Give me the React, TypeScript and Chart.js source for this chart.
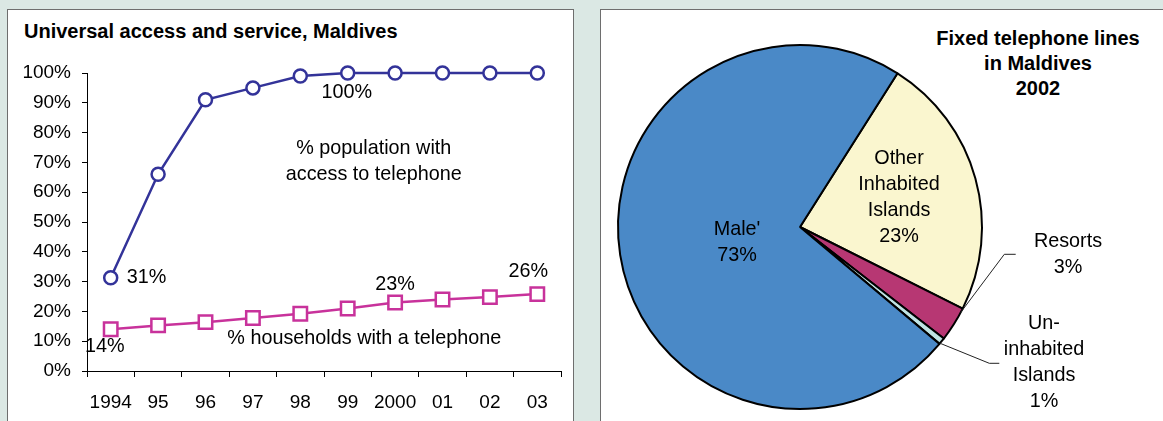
import React, { useEffect, useRef } from 'react';
import { Chart, registerables } from 'chart.js';

Chart.register(...registerables);

const FONT = '"Liberation Sans", Arial, Helvetica, sans-serif';

// ---- Line chart data ----
const years = ['1994', '95', '96', '97', '98', '99', '2000', '01', '02', '03'];
const populationAccess = [31.3, 66, 91, 95, 99, 100, 100, 100, 100, 100];
const householdsPhone = [14, 15.3, 16.4, 17.8, 19.2, 21, 23, 24, 24.8, 25.8];
const yTickStep = 10;

// ---- Pie chart data ----
const pieLabels = ['Other Inhabited Islands', 'Resorts', 'Un-inhabited Islands', "Male'"];
const pieValues = [23.4, 3.1, 0.6, 72.9];
const pieNameLines = [['Other', 'Inhabited', 'Islands'], ['Resorts'], ['Un-', 'inhabited', 'Islands'], ["Male'"]];
const pieColors = ['#faf6cf', '#b73773', '#bfe4e4', '#4a89c7'];

const pct = (v: number) => Math.round(v) + '%';

function LineChart() {
  const ref = useRef<HTMLCanvasElement>(null);
  useEffect(() => {
    const notes = {
      id: 'notes',
      afterDatasetsDraw(chart: any) {
        const { ctx } = chart;
        const x = chart.scales.x;
        const y = chart.scales.y;
        const px = (i: number) => x.getPixelForValue(i);
        const py = (v: number) => y.getPixelForValue(v);
        ctx.save();
        ctx.font = `19.8px ${FONT}`;
        ctx.fillStyle = '#000';
        ctx.textBaseline = 'middle';
        const put = (t: string, X: number, Y: number, align: CanvasTextAlign = 'center') => {
          ctx.textAlign = align;
          ctx.fillText(t, X, Y);
        };
        put(pct(populationAccess[0]), px(0) + 16, py(populationAccess[0]), 'left');
        put(pct(populationAccess[5]), px(5) - 1, py(populationAccess[5]) + 20);
        put(pct(householdsPhone[0]), px(0) - 6, py(householdsPhone[0]) + 17);
        put(pct(householdsPhone[6]), px(6), py(householdsPhone[6]) - 18);
        put(pct(householdsPhone[9]), px(9) - 9, py(householdsPhone[9]) - 23);
        put('% population with', px(5.55), py(74.8));
        put('access to telephone', px(5.55), py(65.8));
        put('% households with a telephone', px(5.35), py(11));
        ctx.restore();
      },
    };
    const chart = new Chart(ref.current as HTMLCanvasElement, {
      type: 'line',
      data: {
        labels: years,
        datasets: [
          {
            label: '% population with access to telephone',
            data: populationAccess,
            borderColor: '#333399',
            backgroundColor: '#ffffff',
            borderWidth: 2.5,
            pointStyle: 'circle',
            pointRadius: 6.5,
            pointBorderWidth: 2.5,
            pointBackgroundColor: '#ffffff',
            pointBorderColor: '#333399',
            tension: 0,
            clip: false as any,
          },
          {
            label: '% households with a telephone',
            data: householdsPhone,
            borderColor: '#c8329b',
            backgroundColor: '#ffffff',
            borderWidth: 2.5,
            pointStyle: 'rect',
            pointRadius: 9.5,
            pointBorderWidth: 2.5,
            pointBackgroundColor: '#ffffff',
            pointBorderColor: '#c8329b',
            tension: 0,
            clip: false as any,
          },
        ],
      },
      options: {
        responsive: false,
        animation: false,
        layout: { padding: { left: 0, right: 10, top: 63, bottom: 0 } },
        plugins: { legend: { display: false }, tooltip: { enabled: false }, title: { display: false } },
        scales: {
          x: {
            offset: true,
            grid: { offset: true, drawOnChartArea: false, tickLength: 6, color: '#000', lineWidth: 1 },
            border: { color: '#000', width: 1 },
            ticks: { autoSkip: false, maxRotation: 0, color: '#000', font: { family: FONT, size: 19 }, padding: 14 },
            afterFit: (s: any) => { s.height = 50; },
          },
          y: {
            min: 0,
            max: 100,
            ticks: { stepSize: yTickStep, callback: (v: any) => v + '%', color: '#000', font: { family: FONT, size: 19 }, padding: 11 },
            grid: { drawOnChartArea: false, tickLength: 5, color: '#000', lineWidth: 1 },
            border: { color: '#000', width: 1 },
            afterFit: (s: any) => { s.width = 79; },
          },
        },
      },
      plugins: [notes],
    });
    return () => chart.destroy();
  }, []);
  return <canvas ref={ref} width={565} height={411} style={{ position: 'absolute', left: 8, top: 10 }} />;
}

function PieChart() {
  const ref = useRef<HTMLCanvasElement>(null);
  useEffect(() => {
    const pieText = {
      id: 'pieText',
      afterDatasetsDraw(chart: any) {
        const { ctx } = chart;
        const arcs = chart.getDatasetMeta(0).data;
        const a0 = arcs[0];
        const cx = a0.x;
        const cy = a0.y;
        const r = a0.outerRadius;
        const mid = (a: any) => (a.startAngle + a.endAngle) / 2;
        const LH = 26;
        ctx.save();
        ctx.font = `19.8px ${FONT}`;
        ctx.fillStyle = '#000';
        ctx.textAlign = 'center';
        ctx.textBaseline = 'middle';
        const block = (lines: string[], X: number, Yc: number) => {
          const top = Yc - ((lines.length - 1) * LH) / 2;
          lines.forEach((l, i) => ctx.fillText(l, X, top + i * LH));
        };
        // Other inhabited islands
        {
          const m = mid(arcs[0]);
          block([...pieNameLines[0], pct(pieValues[0])], cx + Math.cos(m) * r * 0.57 - 1, cy + Math.sin(m) * r * 0.57 - 2);
        }
        // Male'
        {
          const m = mid(arcs[3]);
          block([...pieNameLines[3], pct(pieValues[3])], cx + Math.cos(m) * r * 0.35, cy + Math.sin(m) * r * 0.35 + 6);
        }
        // Resorts
        block([...pieNameLines[1], pct(pieValues[1])], cx + 268, cy + 28);
        // Un-inhabited
        block([...pieNameLines[2], pct(pieValues[2])], cx + 244, cy + 136);

        // leader lines
        ctx.strokeStyle = '#222';
        ctx.lineWidth = 1;
        const leader = (ang: number, ex: number, ey: number, fx: number) => {
          ctx.beginPath();
          ctx.moveTo(cx + Math.cos(ang) * r, cy + Math.sin(ang) * r);
          ctx.lineTo(cx + ex, cy + ey);
          ctx.lineTo(cx + fx, cy + ey);
          ctx.stroke();
        };
        const ar = arcs[1];
        leader(ar.startAngle + 0.12 * (ar.endAngle - ar.startAngle), 204.3, 27.3, 215.7);
        const au = arcs[2];
        leader(au.endAngle - 0.12 * (au.endAngle - au.startAngle), 189.3, 136.3, 199.3);
        ctx.restore();
      },
    };
    const chart = new Chart(ref.current as HTMLCanvasElement, {
      type: 'pie',
      data: {
        labels: pieLabels,
        datasets: [{ data: pieValues, backgroundColor: pieColors, borderColor: '#000', borderWidth: 2 }],
      },
      options: {
        responsive: false,
        animation: false,
        rotation: 32.4,
        layout: { padding: { left: 16, right: 180, top: 34, bottom: 11 } },
        plugins: { legend: { display: false }, tooltip: { enabled: false } },
      },
      plugins: [pieText],
    });
    return () => chart.destroy();
  }, []);
  return <canvas ref={ref} width={562} height={411} style={{ position: 'absolute', left: 601, top: 10 }} />;
}

export default function App() {
  return (
    <div
      style={{
        position: 'absolute',
        left: 0,
        top: 0,
        width: 1163,
        height: 421,
        background: '#dbe8e4',
        overflow: 'hidden',
        fontFamily: FONT,
      }}
    >
      <div style={{ position: 'absolute', left: 7, top: 9, width: 565, height: 440, background: '#fff', border: '1px solid #6e6e6e' }} />
      <div style={{ position: 'absolute', left: 600, top: 9, width: 600, height: 440, background: '#fff', border: '1px solid #6e6e6e' }} />
      <div style={{ position: 'absolute', left: 24, top: 19, height: 24, lineHeight: '24px', fontSize: 20, fontWeight: 'bold', color: '#000', whiteSpace: 'nowrap' }}>
        Universal access and service, Maldives
      </div>
      <div style={{ position: 'absolute', left: 918, top: 25.5, width: 240, lineHeight: '25px', fontSize: 20, fontWeight: 'bold', color: '#000', textAlign: 'center' }}>
        Fixed telephone lines
        <br />
        in Maldives
        <br />
        2002
      </div>
      <LineChart />
      <PieChart />
    </div>
  );
}
